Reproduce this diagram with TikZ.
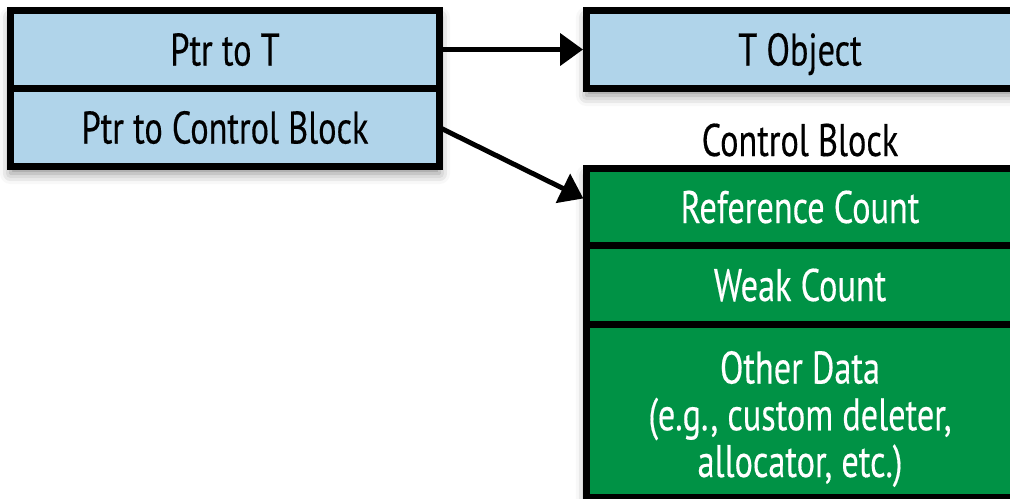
\documentclass[tikz,border=0pt]{standalone}
\usepackage{fontspec}
\setmainfont[FakeStretch=0.75,FakeBold=0.3]{PT Sans}
\usetikzlibrary{arrows.meta,positioning,shadows.blur,backgrounds}
\definecolor{ptrblue}{RGB}{176,212,234}
\definecolor{ctrlgreen}{RGB}{0,146,69}

\begin{document}
\begin{tikzpicture}[x=0.1mm,y=-0.1mm,
  cell/.style={draw=black,line width=2pt,outer sep=0pt,inner sep=2pt,
    align=center,font=\fontsize{13}{13.3}\selectfont},
  ptrcell/.style={cell,fill=ptrblue,text=black,minimum height=7.8mm,
    text height=3.2mm,text depth=0mm},
  ctrlcell/.style={cell,fill=ctrlgreen,text=white,minimum width=42.7mm},
  ptr/.style={-{Triangle[length=6.5pt,width=9pt]},line width=1.4pt,shorten >=1pt},
  boxshadow/.style={blur shadow={shadow xshift=0pt,shadow yshift=-2pt,
    shadow blur radius=3pt,shadow opacity=45}}
]
\useasboundingbox (0,0) rectangle (1010,498);

\node[ptrcell,minimum width=42.9mm] (ptrT) at (225,49.5) {Ptr to T};
\node[ptrcell,minimum width=42.9mm,below=0pt of ptrT] (ptrCB) {Ptr to Control Block};
\node[ptrcell,minimum width=42.7mm] (tobj) at (800,49.5) {T Object};

\node[font=\fontsize{13}{13.3}\selectfont] (cbtitle) at (800,140) {Control Block};
\node[ctrlcell,minimum height=7.7mm] (refcnt) at (800,207) {Reference Count};
\node[ctrlcell,minimum height=7.9mm,below=0pt of refcnt] (weakcnt) {Weak Count};
\node[ctrlcell,minimum height=17.3mm,below=0pt of weakcnt] (other) {};
\node[cell,draw=none,text=white] (othertext) at ([yshift=-0.8mm]other.center)
  {Other Data\\(e.g., custom deleter,\\allocator, etc.)};

\begin{scope}[on background layer]
  \path[boxshadow] (ptrT.north west) rectangle (ptrCB.south east);
  \path[boxshadow] (tobj.north west) rectangle (tobj.south east);
  \path[boxshadow] (refcnt.north west) rectangle (other.south east);
\end{scope}

\draw[ptr] (ptrT.east) -- (tobj.west);
\draw[ptr] (ptrCB.east) -- ([yshift=0.7mm]refcnt.west);
\end{tikzpicture}
\end{document}
